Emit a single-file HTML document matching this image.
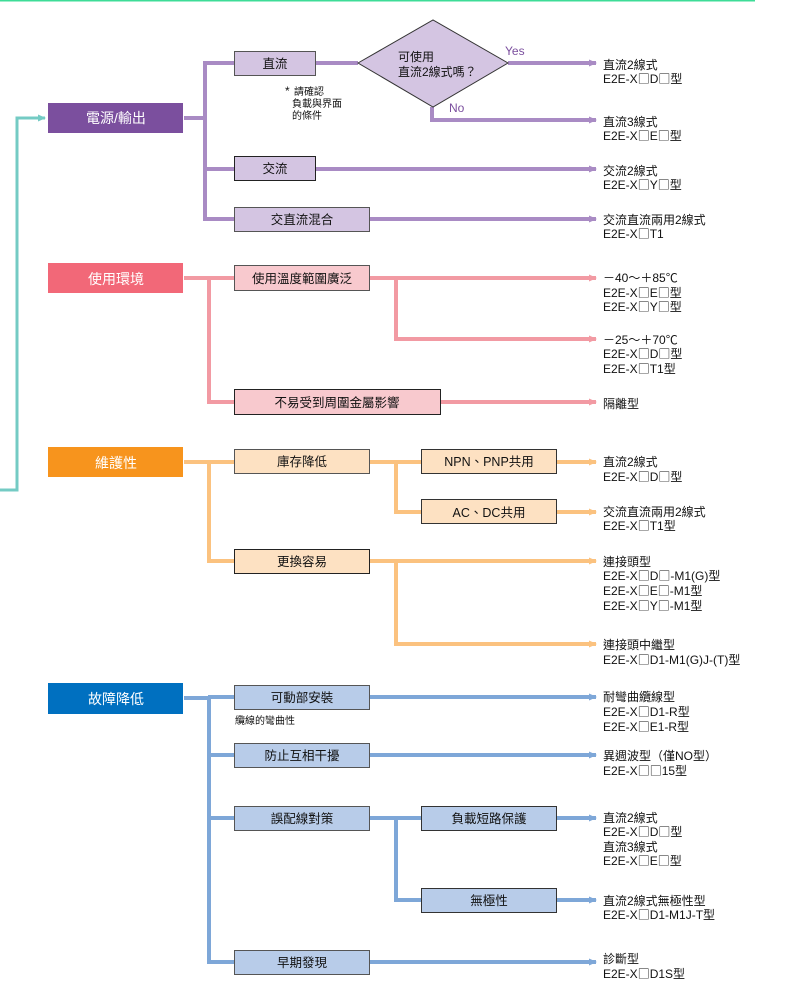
<!DOCTYPE html>
<html><head><meta charset="utf-8"><style>
html,body{margin:0;padding:0;background:#fff}
svg{display:block}
text{font-family:"Liberation Sans","Noto Sans CJK TC",sans-serif}
.cat{fill:#fff;font-size:14px;text-anchor:middle}
.sub{fill:#111;font-size:12.5px;text-anchor:middle}
.r{fill:#111;font-size:12px}
.b{font-family:"Noto Sans CJK TC",sans-serif}
</style></head><body>
<svg width="794" height="987" viewBox="0 0 794 987" xmlns="http://www.w3.org/2000/svg">
<defs>
<marker id="ap" markerWidth="8" markerHeight="8" refX="7" refY="4" orient="auto" markerUnits="userSpaceOnUse"><path d="M0,0.5 L8,4 L0,7.5z" fill="#a98bc4"/></marker>
<marker id="ak" markerWidth="8" markerHeight="8" refX="7" refY="4" orient="auto" markerUnits="userSpaceOnUse"><path d="M0,0.5 L8,4 L0,7.5z" fill="#f29aa3"/></marker>
<marker id="ao" markerWidth="8" markerHeight="8" refX="7" refY="4" orient="auto" markerUnits="userSpaceOnUse"><path d="M0,0.5 L8,4 L0,7.5z" fill="#fbc27f"/></marker>
<marker id="ab" markerWidth="8" markerHeight="8" refX="7" refY="4" orient="auto" markerUnits="userSpaceOnUse"><path d="M0,0.5 L8,4 L0,7.5z" fill="#7ea7d8"/></marker>
<marker id="at" markerWidth="8" markerHeight="8" refX="7" refY="4" orient="auto" markerUnits="userSpaceOnUse"><path d="M0,0.5 L8,4 L0,7.5z" fill="#74cbc4"/></marker>
</defs>
<line x1="0" y1="0.5" x2="755" y2="0.5" stroke="#3ddc97" stroke-width="2"/>
<polyline points="0,490 17,490 17,118 45,118" fill="none" stroke="#74cbc4" stroke-width="3" marker-end="url(#at)"/>

<!-- PURPLE -->
<g stroke="#a98bc4" stroke-width="4" fill="none">
<line x1="184" y1="118" x2="205" y2="118"/>
<line x1="205" y1="61" x2="205" y2="221"/>
<line x1="205" y1="63" x2="234" y2="63"/>
<line x1="205" y1="169" x2="234" y2="169"/>
<line x1="205" y1="219" x2="234" y2="219"/>
<line x1="316" y1="63" x2="358" y2="63"/>
<line x1="508" y1="63" x2="596" y2="63" marker-end="url(#ap)"/>
<polyline points="432,107 432,120 596,120" marker-end="url(#ap)"/>
<line x1="316" y1="169" x2="596" y2="169" marker-end="url(#ap)"/>
<line x1="370" y1="219" x2="596" y2="219" marker-end="url(#ap)"/>
</g>
<rect x="48" y="103" width="135" height="30" fill="#7b4f9e"/>
<text class="cat" x="116" y="123">電源/輸出</text>
<rect x="234.5" y="51.5" width="81" height="24" fill="#d4c5e2" stroke="#555"/>
<text class="sub" x="275" y="68">直流</text>
<rect x="234.5" y="156.5" width="81" height="24" fill="#d4c5e2" stroke="#222"/>
<text class="sub" x="275" y="173">交流</text>
<rect x="234.5" y="207.5" width="135" height="24" fill="#d4c5e2" stroke="#555"/>
<text class="sub" x="302" y="224">交直流混合</text>
<polygon points="358,63 433,20 508,63 433,107" fill="#d4c5e2" stroke="#333"/>
<text class="r" x="398" y="61">可使用</text>
<text class="r" x="398" y="76">直流2線式嗎？</text>
<text x="505" y="55" fill="#7b4f9e" font-size="12">Yes</text>
<text x="449" y="112" fill="#7b4f9e" font-size="12">No</text>
<text class="r" x="285" y="95" font-size="10">*</text>
<text class="r" x="294" y="95" style="font-size:10px">請確認</text>
<text class="r" x="292" y="107" style="font-size:10px">負載與界面</text>
<text class="r" x="292" y="119" style="font-size:10px">的條件</text>
<text class="r" x="603" y="69">直流2線式</text><text class="r" x="603" y="83">E2E-X<tspan class="b">□</tspan>D<tspan class="b">□</tspan>型</text>
<text class="r" x="603" y="126">直流3線式</text><text class="r" x="603" y="140">E2E-X<tspan class="b">□</tspan>E<tspan class="b">□</tspan>型</text>
<text class="r" x="603" y="175">交流2線式</text><text class="r" x="603" y="189">E2E-X<tspan class="b">□</tspan>Y<tspan class="b">□</tspan>型</text>
<text class="r" x="603" y="224">交流直流兩用2線式</text><text class="r" x="603" y="238">E2E-X<tspan class="b">□</tspan>T1</text>

<!-- PINK -->
<g stroke="#f29aa3" stroke-width="4" fill="none">
<line x1="184" y1="278" x2="208" y2="278"/>
<line x1="209" y1="277" x2="209" y2="404"/>
<line x1="208" y1="278" x2="234" y2="278"/>
<line x1="208" y1="402" x2="234" y2="402"/>
<line x1="370" y1="278" x2="596" y2="278" marker-end="url(#ak)"/>
<polyline points="396,278 396,339 596,339" marker-end="url(#ak)"/>
<line x1="440" y1="402" x2="596" y2="402" marker-end="url(#ak)"/>
</g>
<rect x="48" y="263" width="135" height="30" fill="#f26878"/>
<text class="cat" x="116" y="284">使用環境</text>
<rect x="234.5" y="265.5" width="135" height="25" fill="#f8c9ce" stroke="#555"/>
<text class="sub" x="302" y="283">使用溫度範圍廣泛</text>
<rect x="234.5" y="389.5" width="206" height="25" fill="#f8c9ce" stroke="#222"/>
<text class="sub" x="337" y="407">不易受到周圍金屬影響</text>
<text class="r" x="603" y="282">－40～＋85℃</text><text class="r" x="603" y="297">E2E-X<tspan class="b">□</tspan>E<tspan class="b">□</tspan>型</text><text class="r" x="603" y="311">E2E-X<tspan class="b">□</tspan>Y<tspan class="b">□</tspan>型</text>
<text class="r" x="603" y="344">－25～＋70℃</text><text class="r" x="603" y="358">E2E-X<tspan class="b">□</tspan>D<tspan class="b">□</tspan>型</text><text class="r" x="603" y="373">E2E-X<tspan class="b">□</tspan>T1型</text>
<text class="r" x="603" y="408">隔離型</text>

<!-- ORANGE -->
<g stroke="#fbc27f" stroke-width="4" fill="none">
<line x1="184" y1="462" x2="208" y2="462"/>
<line x1="209" y1="460" x2="209" y2="563"/>
<line x1="208" y1="462" x2="234" y2="462"/>
<line x1="208" y1="561" x2="234" y2="561"/>
<line x1="370" y1="462" x2="421" y2="462"/>
<polyline points="396,462 396,512 421,512"/>
<line x1="557" y1="462" x2="596" y2="462" marker-end="url(#ao)"/>
<line x1="557" y1="512" x2="596" y2="512" marker-end="url(#ao)"/>
<line x1="370" y1="561" x2="596" y2="561" marker-end="url(#ao)"/>
<polyline points="396,561 396,644 596,644" marker-end="url(#ao)"/>
</g>
<rect x="48" y="447" width="135" height="30" fill="#f7941d"/>
<text class="cat" x="116" y="468">維護性</text>
<rect x="234.5" y="449.5" width="135" height="24" fill="#fde1c2" stroke="#555"/>
<text class="sub" x="302" y="466">庫存降低</text>
<rect x="234.5" y="549.5" width="135" height="24" fill="#fde1c2" stroke="#222"/>
<text class="sub" x="302" y="566">更換容易</text>
<rect x="421.5" y="449.5" width="135" height="24" fill="#fde1c2" stroke="#333"/>
<text class="sub" x="489" y="466">NPN、PNP共用</text>
<rect x="421.5" y="499.5" width="135" height="24" fill="#fde1c2" stroke="#333"/>
<text class="sub" x="489" y="517">AC、DC共用</text>
<text class="r" x="603" y="466">直流2線式</text><text class="r" x="603" y="481">E2E-X<tspan class="b">□</tspan>D<tspan class="b">□</tspan>型</text>
<text class="r" x="603" y="516">交流直流兩用2線式</text><text class="r" x="603" y="530">E2E-X<tspan class="b">□</tspan>T1型</text>
<text class="r" x="603" y="566">連接頭型</text><text class="r" x="603" y="580">E2E-X<tspan class="b">□</tspan>D<tspan class="b">□</tspan>-M1(G)型</text><text class="r" x="603" y="595">E2E-X<tspan class="b">□</tspan>E<tspan class="b">□</tspan>-M1型</text><text class="r" x="603" y="610">E2E-X<tspan class="b">□</tspan>Y<tspan class="b">□</tspan>-M1型</text>
<text class="r" x="603" y="649">連接頭中繼型</text><text class="r" x="603" y="664">E2E-X<tspan class="b">□</tspan>D1-M1(G)J-(T)型</text>

<!-- BLUE -->
<g stroke="#7ea7d8" stroke-width="4" fill="none">
<line x1="184" y1="698" x2="208" y2="698"/>
<line x1="209" y1="696" x2="209" y2="964"/>
<line x1="208" y1="697" x2="234" y2="697"/>
<line x1="208" y1="755" x2="234" y2="755"/>
<line x1="208" y1="818" x2="234" y2="818"/>
<line x1="208" y1="962" x2="234" y2="962"/>
<line x1="370" y1="697" x2="596" y2="697" marker-end="url(#ab)"/>
<line x1="370" y1="755" x2="596" y2="755" marker-end="url(#ab)"/>
<line x1="370" y1="818" x2="421" y2="818"/>
<polyline points="396,818 396,900 421,900"/>
<line x1="557" y1="818" x2="596" y2="818" marker-end="url(#ab)"/>
<line x1="557" y1="900" x2="596" y2="900" marker-end="url(#ab)"/>
<line x1="370" y1="962" x2="596" y2="962" marker-end="url(#ab)"/>
</g>
<rect x="48" y="683" width="135" height="31" fill="#0070c0"/>
<text class="cat" x="116" y="704">故障降低</text>
<rect x="234.5" y="685.5" width="135" height="24" fill="#b8cce9" stroke="#555"/>
<text class="sub" x="302" y="702">可動部安裝</text>
<text class="r" x="235" y="724" style="font-size:10px">纜線的彎曲性</text>
<rect x="234.5" y="743.5" width="135" height="24" fill="#b8cce9" stroke="#555"/>
<text class="sub" x="302" y="760">防止互相干擾</text>
<rect x="234.5" y="806.5" width="135" height="24" fill="#b8cce9" stroke="#555"/>
<text class="sub" x="302" y="823">誤配線對策</text>
<rect x="234.5" y="950.5" width="135" height="24" fill="#b8cce9" stroke="#555"/>
<text class="sub" x="302" y="967">早期發現</text>
<rect x="421.5" y="806.5" width="135" height="24" fill="#b8cce9" stroke="#333"/>
<text class="sub" x="489" y="823">負載短路保護</text>
<rect x="421.5" y="888.5" width="135" height="24" fill="#b8cce9" stroke="#333"/>
<text class="sub" x="489" y="905">無極性</text>
<text class="r" x="603" y="701">耐彎曲纜線型</text><text class="r" x="603" y="716">E2E-X<tspan class="b">□</tspan>D1-R型</text><text class="r" x="603" y="731">E2E-X<tspan class="b">□</tspan>E1-R型</text>
<text class="r" x="603" y="760">異週波型（僅NO型）</text><text class="r" x="603" y="775">E2E-X<tspan class="b">□□</tspan>15型</text>
<text class="r" x="603" y="822">直流2線式</text><text class="r" x="603" y="836">E2E-X<tspan class="b">□</tspan>D<tspan class="b">□</tspan>型</text><text class="r" x="603" y="851">直流3線式</text><text class="r" x="603" y="865">E2E-X<tspan class="b">□</tspan>E<tspan class="b">□</tspan>型</text>
<text class="r" x="603" y="905">直流2線式無極性型</text><text class="r" x="603" y="919">E2E-X<tspan class="b">□</tspan>D1-M1J-T型</text>
<text class="r" x="603" y="963">診斷型</text><text class="r" x="603" y="978">E2E-X<tspan class="b">□</tspan>D1S型</text>
</svg>
</body></html>
